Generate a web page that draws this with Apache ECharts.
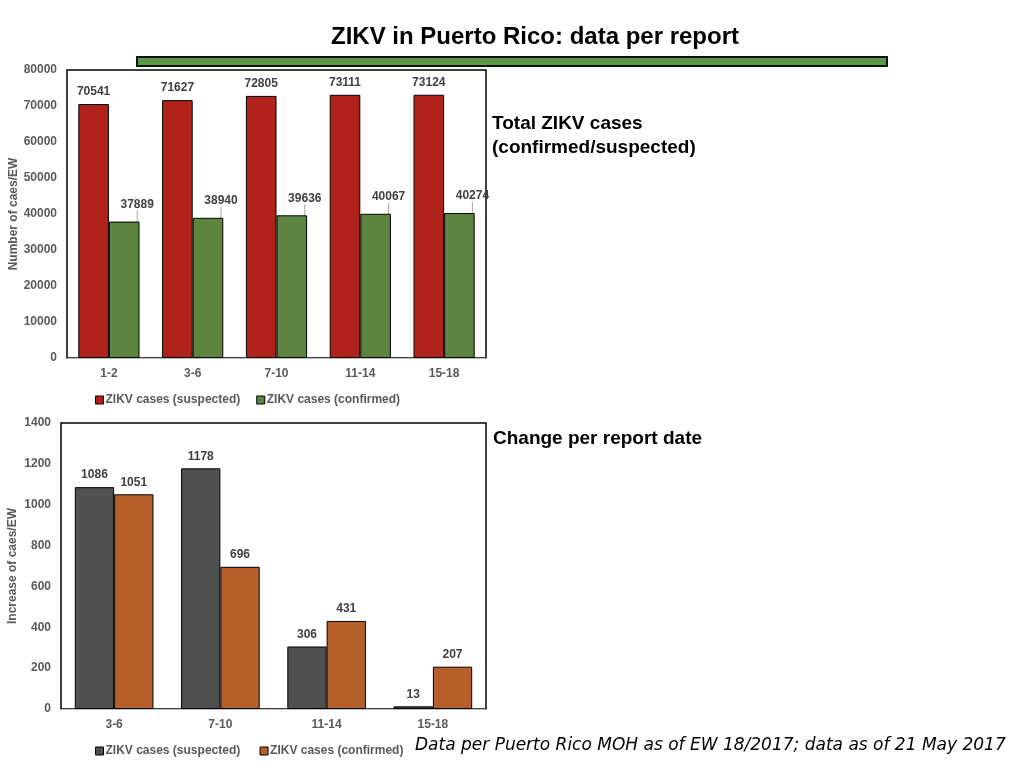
<!DOCTYPE html>
<html>
<head>
<meta charset="utf-8">
<script src="https://cdn.jsdelivr.net/npm/echarts@6/dist/echarts.min.js"></script>
<style>
  html, body { margin: 0; padding: 0; background: #fff; }
  #canvas { width: 1024px; height: 768px; }
</style>
</head>
<body>
<div id="canvas"></div>
<script>
// total cases per report (EW ranges)
var totalWeeks = ['1-2', '3-6', '7-10', '11-14', '15-18'];
var totalSuspected = [70541, 71627, 72805, 73111, 73124];
var totalConfirmed = [37889, 38940, 39636, 40067, 40274];

// change per report date
var changeWeeks = ['3-6', '7-10', '11-14', '15-18'];
var changeSuspected = [1086, 1178, 306, 13];
var changeConfirmed = [1051, 696, 431, 207];

var font = 'Liberation Sans, Arial, sans-serif';
var tickStyle = { color: '#595959', fontSize: 12, fontWeight: 'bold', fontFamily: font };
var valueLabel = { show: true, position: 'top', color: '#404040', fontSize: 12, fontWeight: 'bold', fontFamily: font, distance: 6 };
var plain = function(v) { return String(v); };

var load_chart = function() {
    var myChart = echarts.init(document.getElementById('canvas'));
    var legendText = { color: '#595959', fontSize: 12, fontWeight: 'bold', fontFamily: font, padding: [0, 0, 0, -3] };
    var option = {
        animation: false,
        title: [
            { text: 'ZIKV in Puerto Rico: data per report', left: 535, top: 25, textAlign: 'center', padding: 0,
              textStyle: { fontFamily: font, fontSize: 24, fontWeight: 'bold', color: '#000' } },
            { text: 'Total ZIKV cases\n(confirmed/suspected)', left: 492, top: 112, padding: 0,
              textStyle: { fontFamily: font, fontSize: 19, fontWeight: 'bold', color: '#000', lineHeight: 24 } },
            { text: 'Change per report date', left: 493, top: 429, padding: 0,
              textStyle: { fontFamily: font, fontSize: 19, fontWeight: 'bold', color: '#000' } },
            { text: 'Data per Puerto Rico MOH as of EW 18/2017; data as of 21 May 2017', left: 415, top: 737, padding: 0,
              textStyle: { fontFamily: 'DejaVu Sans', fontSize: 17, fontStyle: 'italic', fontWeight: 'normal', color: '#000' } }
        ],
        graphic: [
            { type: 'rect', shape: { x: 137, y: 57, width: 750, height: 9 },
              style: { fill: '#5B9A48', stroke: '#111', lineWidth: 2 } }
        ],
        legend: [
            { data: ['ZIKV cases (suspected)', 'ZIKV cases (confirmed)'], left: 90, top: 389,
              itemWidth: 8, itemHeight: 8, itemGap: 16, icon: 'rect',
              itemStyle: { borderColor: '#000', borderWidth: 1 }, textStyle: legendText },
            { data: ['ZIKV cases (suspected) ', 'ZIKV cases (confirmed) '], left: 90, top: 740,
              itemWidth: 8, itemHeight: 8, itemGap: 16, icon: 'rect',
              itemStyle: { borderColor: '#000', borderWidth: 1 }, textStyle: legendText }
        ],
        grid: [
            { left: 67, top: 70, width: 419, height: 288, show: true, borderColor: '#000', borderWidth: 1.5 },
            { left: 61, top: 423, width: 425, height: 286, show: true, borderColor: '#000', borderWidth: 1.5 }
        ],
        xAxis: [
            { type: 'category', gridIndex: 0, data: totalWeeks,
              axisLine: { lineStyle: { color: '#bfbfbf' } }, axisTick: { show: false },
              axisLabel: Object.assign({ margin: 10 }, tickStyle) },
            { type: 'category', gridIndex: 1, data: changeWeeks,
              axisLine: { lineStyle: { color: '#bfbfbf' } }, axisTick: { show: false },
              axisLabel: Object.assign({ margin: 10 }, tickStyle) }
        ],
        yAxis: [
            { type: 'value', gridIndex: 0, min: 0, max: 80000, interval: 10000,
              name: 'Number of caes/EW', nameLocation: 'middle', nameGap: 47, nameRotate: 90,
              nameTextStyle: tickStyle,
              splitLine: { show: false }, axisLine: { show: false }, axisTick: { show: false },
              axisLabel: Object.assign({ margin: 10, formatter: plain }, tickStyle) },
            { type: 'value', gridIndex: 1, min: 0, max: 1400, interval: 200,
              name: 'Increase of caes/EW', nameLocation: 'middle', nameGap: 42, nameRotate: 90,
              nameTextStyle: tickStyle,
              splitLine: { show: false }, axisLine: { show: false }, axisTick: { show: false },
              axisLabel: Object.assign({ margin: 10, formatter: plain }, tickStyle) }
        ],
        series: [
            { name: 'ZIKV cases (suspected)', type: 'bar', xAxisIndex: 0, yAxisIndex: 0,
              data: totalSuspected, barGap: '0%', barCategoryGap: '27%',
              itemStyle: { color: '#B0231A', borderColor: '#000', borderWidth: 1 },
              label: valueLabel },
            { name: 'ZIKV cases (confirmed)', type: 'bar', xAxisIndex: 0, yAxisIndex: 0,
              data: totalConfirmed, barGap: '0%', barCategoryGap: '27%',
              itemStyle: { color: '#5E8540', borderColor: '#000', borderWidth: 1 },
              label: valueLabel,
              labelLayout: { dx: 13, dy: -5 },
              labelLine: { show: true, lineStyle: { color: '#a6a6a6', width: 1 } } },
            { name: 'ZIKV cases (suspected) ', type: 'bar', xAxisIndex: 1, yAxisIndex: 1,
              data: changeSuspected, barGap: '0%', barCategoryGap: '26%',
              itemStyle: { color: '#505050', borderColor: '#000', borderWidth: 1 },
              label: valueLabel },
            { name: 'ZIKV cases (confirmed) ', type: 'bar', xAxisIndex: 1, yAxisIndex: 1,
              data: changeConfirmed, barGap: '0%', barCategoryGap: '26%',
              itemStyle: { color: '#B5602A', borderColor: '#000', borderWidth: 1 },
              label: valueLabel }
        ]
    };
    myChart.setOption(option);
};

load_chart();
</script>
</body>
</html>
